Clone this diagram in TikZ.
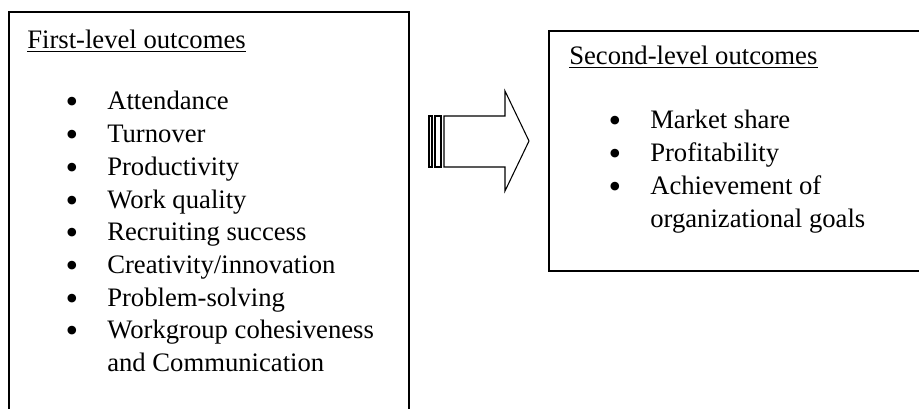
\documentclass[tikz,border=0pt]{standalone}
\usepackage{fontspec}
\setmainfont{Liberation Serif}
\begin{document}
\begin{tikzpicture}[x=0.75pt,y=-0.75pt,
  frame/.style={draw, line width=1.2pt},
  label/.style={anchor=base west, inner sep=0pt, font=\fontsize{20}{23}\selectfont},
  dot/.style={anchor=base, inner sep=0pt, font=\fontsize{27}{27}\selectfont},
  rule/.style={line width=1.1pt},
  blockarrow/.style={draw, line width=0.8pt, line join=miter}]
\useasboundingbox (0,0) rectangle (919,409);
\clip (0,0) rectangle (919,409);

% outcome frames (left one runs past the bottom edge, right one past the right edge)
\coordinate (L1) at (9,430);
\coordinate (L2) at (409,12);
\coordinate (R1) at (549,31);
\coordinate (R2) at (935,271);
\draw[frame] (L1) rectangle (L2);
\draw[frame] (R1) rectangle (R2);

% line pitch of the lists
\def\pitch{32.7}

% first-level outcomes
\node[label] (t1) at (27,49) {First-level outcomes};
\draw[rule] ([yshift=-2pt]t1.base west) -- ([yshift=-2pt]t1.base east);
\foreach \txt [count=\i from 0] in {Attendance, Turnover, Productivity, Work quality,
    Recruiting success, Creativity/innovation, Problem-solving, Workgroup cohesiveness}{
  \node[dot] (b\i) at (72,114+\pitch*\i) {•};
  \node[label] (a\i) at (107,110+\pitch*\i) {\txt};
}
\node[label] (a8) at (107,110+8*\pitch) {and Communication};

% second-level outcomes
\node[label] (t2) at (569,65) {Second-level outcomes};
\draw[rule] ([yshift=-2pt]t2.base west) -- ([yshift=-2pt]t2.base east);
\foreach \txt [count=\i from 0] in {Market share, Profitability, Achievement of}{
  \node[dot] (c\i) at (615,133+\pitch*\i) {•};
  \node[label] (s\i) at (650,129+\pitch*\i) {\txt};
}
\node[label] (s3) at (650,129+3*\pitch) {organizational goals};

% block arrow between the frames
\draw[blockarrow] (444,116) -- (505,116) -- (505,91) -- (529,141) -- (505,191)
  -- (505,167) -- (444,167) -- cycle;
\draw[blockarrow] (429,116) rectangle (432,167);
\draw[blockarrow] (435,116) rectangle (441,167);
\end{tikzpicture}
\end{document}
